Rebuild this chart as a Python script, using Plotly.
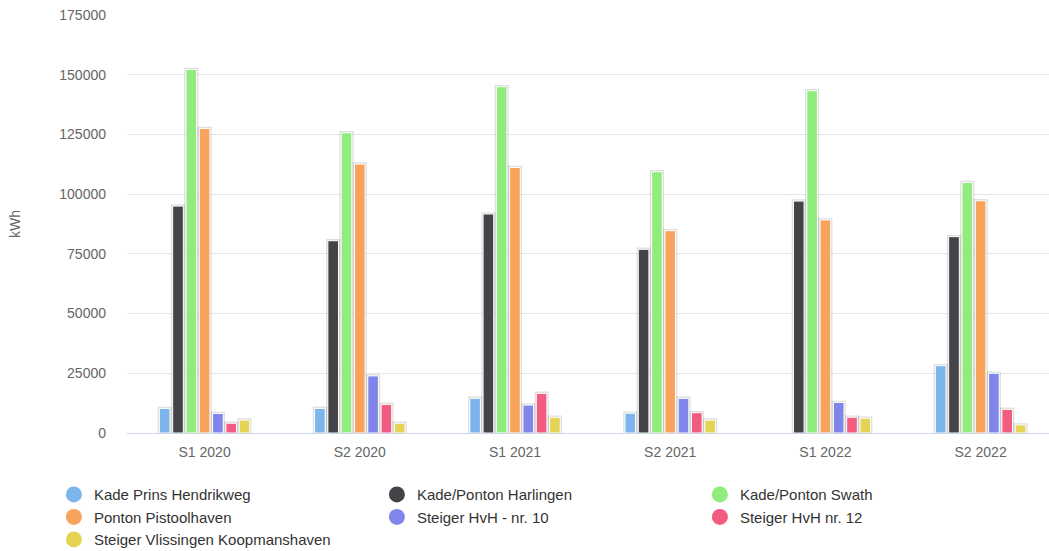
import plotly.graph_objects as go

# Half-year periods on the x axis
periods = ["S1 2020", "S2 2020", "S1 2021", "S2 2021", "S1 2022", "S2 2022"]

# Energy delivered per location (kWh); None = no delivery recorded
kade_prins_hendrikweg = [10300, 10300, 14500, 8300, None, 28200]
kade_ponton_harlingen = [95000, 80500, 91700, 76900, 97100, 82200]
kade_ponton_swath = [152200, 125700, 145000, 109400, 143300, 104900]
ponton_pistoolhaven = [127500, 112600, 111200, 84700, 89200, 97200]
steiger_hvh_10 = [8200, 23900, 11700, 14500, 12800, 25000]
steiger_hvh_12 = [4100, 12000, 16600, 8500, 6600, 9900]
steiger_vlissingen = [5400, 4100, 6600, 5400, 6200, 3400]

series_names = [
    "Kade Prins Hendrikweg",
    "Kade/Ponton Harlingen",
    "Kade/Ponton Swath",
    "Ponton Pistoolhaven",
    "Steiger HvH - nr. 10",
    "Steiger HvH nr. 12",
    "Steiger Vlissingen Koopmanshaven",
]
series_values = [
    kade_prins_hendrikweg,
    kade_ponton_harlingen,
    kade_ponton_swath,
    ponton_pistoolhaven,
    steiger_hvh_10,
    steiger_hvh_12,
    steiger_vlissingen,
]
colors = ["#7cb5ec", "#434348", "#90ed7d", "#f7a35c", "#8085e9", "#f15c80", "#e4d354"]

y_ticks = [0, 25000, 50000, 75000, 100000, 125000, 150000, 175000]

fig = go.Figure()

for i, (name, vals, col) in enumerate(zip(series_names, series_values, colors)):
    # soft shadow behind each bar
    fig.add_trace(go.Bar(
        x=periods, y=vals, name=name, offsetgroup=str(i),
        marker=dict(color="rgba(0,0,0,0)", line=dict(color="rgba(0,0,0,0.13)", width=3.5)),
        showlegend=False, hoverinfo="skip",
    ))
    fig.add_trace(go.Bar(
        x=periods, y=vals, name=name, offsetgroup=str(i),
        marker=dict(color=col, line=dict(color="#ffffff", width=1)),
        showlegend=False,
    ))

# Round legend symbols
for name, col in zip(series_names, colors):
    fig.add_trace(go.Scatter(
        x=[None], y=[None], mode="markers", name=name,
        marker=dict(color=col, size=16, symbol="circle"),
        showlegend=True,
    ))

font_family = "Liberation Sans, Arial, sans-serif"

fig.update_layout(
    width=1049, height=551,
    margin=dict(l=127, r=0, t=15, b=118, autoexpand=False),
    paper_bgcolor="#ffffff", plot_bgcolor="#ffffff",
    barmode="group", bargap=0.4, bargroupgap=0.2,
    font=dict(family=font_family, size=14, color="#333333"),
    xaxis=dict(
        range=[-0.5, -0.5 + 922 / 155.2],
        showgrid=False, showline=True, linecolor="#ccd6eb", linewidth=1,
        ticks="", tickfont=dict(size=14, color="#666666"),
        ticklabelstandoff=6,
        fixedrange=True,
    ),
    yaxis=dict(
        range=[0, 175000], tickvals=y_ticks,
        ticktext=[str(v) for v in y_ticks],
        showgrid=True, gridcolor="#e6e6e6", gridwidth=1,
        zeroline=False, showline=False,
        tickfont=dict(size=14, color="#666666"), ticklen=0,
        ticklabelstandoff=20,
        title=dict(text="kWh", font=dict(size=14, color="#666666"), standoff=35),
        fixedrange=True,
    ),
    legend=dict(
        orientation="h", x=-0.0793, xanchor="left", y=-0.108, yanchor="top",
        entrywidth=278, entrywidthmode="pixels",
        font=dict(size=15, color="#333333"),
        bgcolor="rgba(0,0,0,0)", traceorder="normal",
    ),
    showlegend=True,
)

fig.write_html("out.html")
